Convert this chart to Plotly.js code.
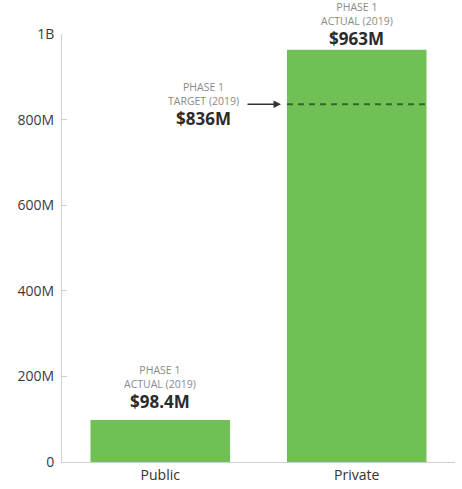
<!DOCTYPE html>
<html>
<head>
<meta charset="utf-8">
<script src="https://cdn.plot.ly/plotly-3.0.1.min.js"></script>
<style>html,body{margin:0;padding:0;background:#fff;}#chart{width:462px;height:489px;}</style>
</head>
<body>
<div id="chart"></div>
<script>
// ---- data ----
const categories = ['Public', 'Private'];
const actualValues = [98.4e6, 963e6];
const valueLabels = ['$98.4M', '$963M'];
const phaseLabel = 'PHASE 1<br>ACTUAL (2019)';
const targetValue = 836e6;
const targetLabel = 'PHASE 1<br>TARGET (2019)';
const targetValueLabel = '$836M';
const yTickVals = [0, 200e6, 400e6, 600e6, 800e6, 1e9];
const yTickText = ['0', '200M', '400M', '600M', '800M', '1B'];

// ---- style ----
const barColor = '#70c055';
const barWidth = 0.71;
const FONT = '"Open Sans", "Segoe UI", sans-serif';
const valueShift = [18, 11];
const labelShift = [43, 36];
const privateIdx = categories.indexOf('Private');
const barLeft = privateIdx - barWidth / 2;
const barRight = privateIdx + barWidth / 2;

const annotations = [];
categories.forEach((c, i) => {
  annotations.push({
    x: c, y: actualValues[i], xref: 'x', yref: 'y',
    text: '<b>' + valueLabels[i] + '</b>', showarrow: false,
    yanchor: 'middle', yshift: valueShift[i],
    font: {family: FONT, size: 17, color: '#2b2b2b'}
  });
  annotations.push({
    x: c, y: actualValues[i], xref: 'x', yref: 'y',
    text: phaseLabel, showarrow: false,
    yanchor: 'middle', yshift: labelShift[i],
    font: {family: FONT, size: 10.5, color: '#8a8a8a'}
  });
});
// target labels
annotations.push({
  x: barLeft, y: targetValue, xref: 'x', yref: 'y',
  text: targetLabel, showarrow: false, xanchor: 'center', yanchor: 'middle',
  xshift: -83, yshift: 10,
  font: {family: FONT, size: 10.5, color: '#8a8a8a'}
});
annotations.push({
  x: barLeft, y: targetValue, xref: 'x', yref: 'y',
  text: '<b>' + targetValueLabel + '</b>', showarrow: false, xanchor: 'center', yanchor: 'middle',
  xshift: -83, yshift: -14,
  font: {family: FONT, size: 17, color: '#2b2b2b'}
});
// arrow
annotations.push({
  x: barLeft, y: targetValue, xref: 'x', yref: 'y',
  text: '', showarrow: true, ax: -41, ay: 0, axref: 'pixel', ayref: 'pixel',
  arrowhead: 2, arrowsize: 1, arrowwidth: 1.5, arrowcolor: '#333', standoff: 6
});

const traces = [{
  type: 'bar', x: categories, y: actualValues,
  width: barWidth, marker: {color: barColor},
  hoverinfo: 'skip'
}];

const layout = {
  width: 462, height: 489,
  margin: {l: 62, r: 7, t: 34, b: 27},
  paper_bgcolor: '#fff', plot_bgcolor: '#fff',
  showlegend: false,
  font: {family: FONT},
  xaxis: {
    type: 'category', range: [-0.5, 1.5],
    showline: true, linecolor: '#cfcfcf', linewidth: 1,
    showgrid: false, zeroline: false, ticks: '',
    tickfont: {family: FONT, size: 14, color: '#333'}
  },
  xaxis2: {
    overlaying: 'x', anchor: 'y', side: 'bottom', range: [-0.5, 1.5],
    tickvals: [0.5, 1.5], ticks: 'inside', ticklen: 6, tickcolor: '#cfcfcf',
    showticklabels: false, showgrid: false, zeroline: false, showline: false
  },
  yaxis: {
    range: [0, 1e9], tickvals: yTickVals, ticktext: yTickText,
    showline: true, linecolor: '#cfcfcf', linewidth: 1,
    ticks: 'inside', ticklen: 5, tickcolor: '#cfcfcf',
    showgrid: false, zeroline: false, ticklabelstandoff: 4,
    tickfont: {family: FONT, size: 14, color: '#3a3a3a'}
  },
  shapes: [{
    type: 'line', xref: 'x', yref: 'y',
    x0: barLeft, x1: barRight, y0: targetValue, y1: targetValue,
    line: {color: '#2e6a2e', width: 2, dash: '6px,5px'}
  }],
  annotations: annotations
};

Plotly.newPlot('chart', traces, layout, {staticPlot: true, displayModeBar: false});
</script>
</body>
</html>
